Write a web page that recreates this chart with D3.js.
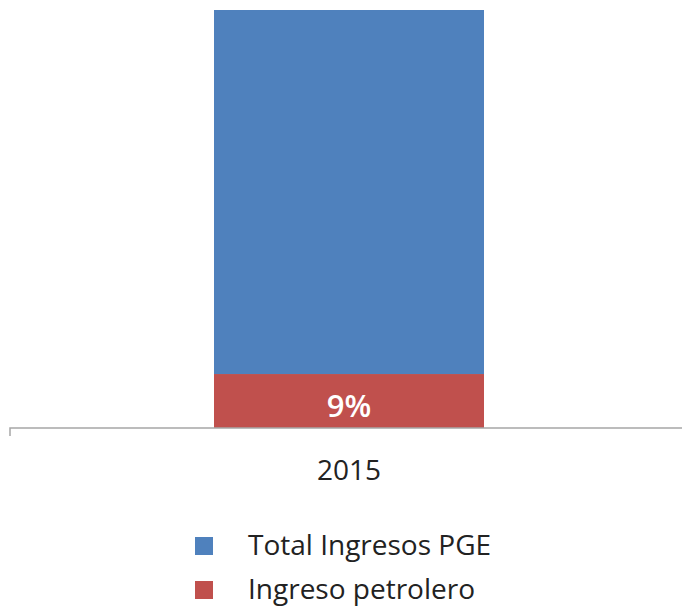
<!DOCTYPE html>
<html>
<head>
    <meta charset="utf-8">
    <title>Ingresos PGE 2015</title>
    <script src="https://d3js.org/d3.v7.min.js"></script>
    <style>
        body { margin: 0; background: #fff; }
        text { font-family: "Open Sans", "Noto Sans", sans-serif; fill: #222; }
        .bar-label { fill: #fff; font-weight: 600; }
    </style>
</head>
<body>
    <div id="chart"></div>
    <script>
        // Data
        const years = ["2015"];
        const seriesNames = ["Ingreso petrolero", "Total Ingresos PGE"];
        const petrolero = [9];
        const totalPGE = [91];
        const colors = ["#c0504d", "#4f81bd"];

        const width = 682, height = 606;
        const margin = { top: 10, right: 0, bottom: 178, left: 10 };

        const svg = d3.select("#chart")
            .append("svg")
            .attr("width", width)
            .attr("height", height);

        const x = d3.scaleBand()
            .domain(years)
            .range([margin.left + 6, width - margin.right])
            .paddingInner(0.4)
            .paddingOuter(0.3);

        // visible axis tops out below the full stack, so the bar runs off the top
        const y = d3.scaleLinear()
            .domain([0, 69.7])
            .range([height - margin.bottom, margin.top]);

        const rows = years.map((yr, i) => ({
            year: yr,
            "Ingreso petrolero": petrolero[i],
            "Total Ingresos PGE": totalPGE[i]
        }));
        const stack = d3.stack().keys(seriesNames)(rows);

        svg.append("clipPath")
            .attr("id", "plot")
            .append("rect")
            .attr("x", 0)
            .attr("y", margin.top)
            .attr("width", width)
            .attr("height", height - margin.bottom - margin.top);

        const bandW = 270;
        const layers = svg.append("g").attr("clip-path", "url(#plot)")
            .selectAll("g")
            .data(stack)
            .join("g")
            .attr("fill", (d, i) => colors[i]);

        layers.selectAll("rect")
            .data(d => d)
            .join("rect")
            .attr("x", d => x(d.data.year) + x.bandwidth() / 2 - bandW / 2)
            .attr("width", bandW)
            .attr("y", d => y(d[1]))
            .attr("height", d => y(d[0]) - y(d[1]));

        // percentage label on red segment
        svg.selectAll(".bar-label")
            .data(stack[0])
            .join("text")
            .attr("class", "bar-label")
            .attr("x", d => x(d.data.year) + x.bandwidth() / 2)
            .attr("y", d => y(d[0]) - 11)
            .attr("text-anchor", "middle")
            .attr("font-size", 31)
            .text((d, i) => petrolero[i] + "%");

        // x axis
        const axisY = y(0);
        svg.append("path")
            .attr("d", `M${margin.left},${axisY + 8}V${axisY}H${width}`)
            .attr("fill", "none")
            .attr("stroke", "#a6a6a6")
            .attr("stroke-width", 1.5);

        svg.selectAll(".year")
            .data(years)
            .join("text")
            .attr("class", "year")
            .attr("x", d => x(d) + x.bandwidth() / 2)
            .attr("y", axisY + 52)
            .attr("text-anchor", "middle")
            .attr("font-size", 28)
            .text(d => d);

        // legend
        const legendNames = ["Total Ingresos PGE", "Ingreso petrolero"];
        const legendColors = [colors[1], colors[0]];
        const legend = svg.selectAll(".legend")
            .data(legendNames)
            .join("g")
            .attr("class", "legend")
            .attr("transform", (d, i) => `translate(195, ${537 + i * 44})`);

        legend.append("rect")
            .attr("width", 18)
            .attr("height", 18)
            .attr("fill", (d, i) => legendColors[i]);

        legend.append("text")
            .attr("x", 53)
            .attr("y", 18)
            .attr("font-size", 28)
            .text(d => d);
    </script>
</body>
</html>
